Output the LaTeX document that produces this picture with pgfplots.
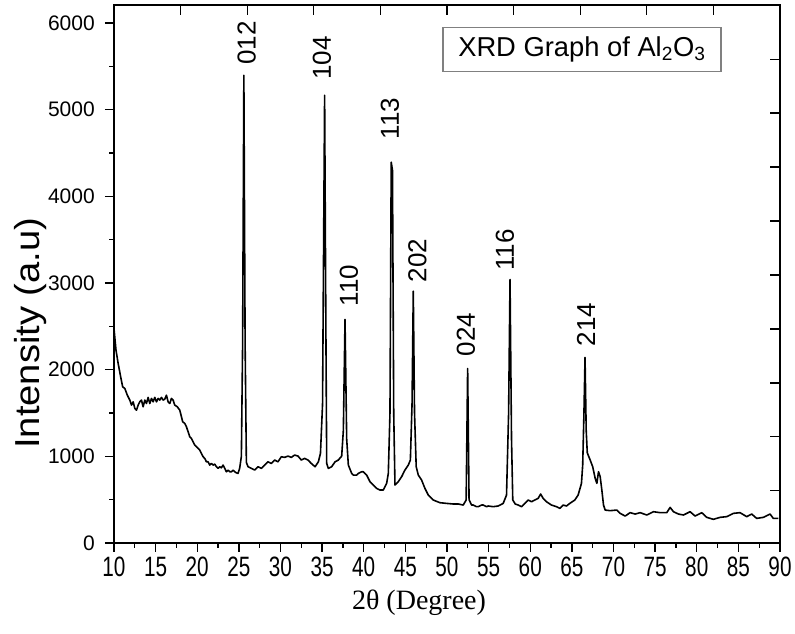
\documentclass[border=0pt]{standalone}
\usepackage{pgfplots}
\pgfplotsset{compat=1.18}
\usepackage{pgfplotstable}
\usepackage{fontspec}
\setmainfont{Liberation Sans}
\newfontfamily\serifx{Liberation Serif}
\newfontfamily\narrowf[FakeStretch=0.74]{Liberation Sans}
\newfontfamily\widef[FakeStretch=1.1]{Liberation Sans}

\pgfplotstableread{
x y
10.0 2475
10.24 2225
10.5 2072
10.8 1918
11.04 1802
11.3 1783
11.6 1706
11.9 1649
12.1 1591
12.3 1629
12.5 1553
12.7 1533
12.9 1591
13.1 1629
13.3 1649
13.5 1572
13.7 1649
13.9 1610
14.1 1680
14.3 1610
14.5 1668
14.7 1629
14.9 1680
15.1 1629
15.3 1668
15.5 1649
15.7 1680
15.9 1649
16.1 1660
16.3 1706
16.5 1629
16.7 1610
16.9 1668
17.1 1649
17.3 1591
17.6 1572
17.9 1533
18.05 1476
18.25 1399
18.5 1380
18.7 1341
18.9 1284
19.1 1226
19.3 1207
19.5 1168
19.7 1130
19.9 1111
20.1 1092
20.3 1072
20.5 1034
20.7 996
20.9 976
21.1 937
21.3 937
21.5 899
21.7 918
21.9 899
22.1 910
22.3 880
22.5 861
22.7 880
22.9 868
23.1 899
23.3 861
23.5 822
23.7 841
23.9 822
24.1 822
24.3 841
24.5 822
24.7 810
24.9 803
25.1 864
25.3 1000
25.45 2300
25.6 5398
25.75 2300
25.9 930
26.1 880
26.5 861
26.9 842
27.3 880
27.7 861
28.1 899
28.5 937
28.9 918
29.3 957
29.7 937
30.1 995
30.5 988
30.9 1003
31.3 988
31.7 1015
32.1 1003
32.5 957
32.9 976
33.3 957
33.7 918
34.15 880
34.55 937
34.8 1034
35.05 1600
35.3 5167
35.45 2500
35.55 918
35.75 861
36.15 880
36.55 937
36.95 957
37.35 1003
37.55 1300
37.75 2579
37.95 1200
38.15 899
38.55 803
38.75 784
39.15 784
39.35 803
39.75 822
39.95 822
40.35 784
40.75 707
41.15 669
41.55 630
41.95 611
42.35 611
42.75 688
42.95 803
43.15 1500
43.3 4394
43.45 4300
43.6 1500
43.75 669
44.15 707
44.55 765
44.95 842
45.35 899
45.6 957
45.8 1600
45.95 2906
46.1 1500
46.3 880
46.55 784
46.95 726
47.35 630
47.75 553
48.35 496
49.15 465
49.95 457
50.75 450
51.35 450
51.95 438
52.3 496
52.48 2014
52.65 500
52.95 438
53.15 438
53.55 419
53.75 419
54.15 438
54.35 438
54.75 419
54.95 427
55.55 419
56.15 427
56.75 457
57.15 553
57.4 1500
57.57 3040
57.75 1200
57.9 496
58.2 450
58.55 438
58.95 419
59.35 457
59.75 496
60.15 476
60.55 496
60.95 515
61.25 565
61.55 515
61.95 476
62.55 438
63.15 419
63.55 400
63.95 438
64.35 427
64.75 457
65.35 496
65.75 553
66.15 688
66.3 900
66.45 1500
66.58 2142
66.72 1300
66.85 1040
67.2 957
67.5 880
67.8 746
68.0 688
68.2 822
68.4 765
68.6 611
68.8 438
69.0 380
69.6 373
70.4 380
70.8 342
71.4 311
72.0 350
72.6 334
73.2 350
74.0 323
74.8 361
75.6 350
76.4 350
76.8 411
77.2 361
77.8 334
78.4 323
79.2 361
79.8 311
80.6 350
81.2 296
82.0 273
82.8 296
83.6 304
84.4 342
85.2 350
86.0 304
86.6 334
87.2 284
88.0 296
88.8 334
89.2 284
89.8 284
}\xrd

\pgfplotstableread{
x y label
25.94 5511 012
34.98 5338 104
38.23 2721 110
43.15 4647 113
46.46 2998 202
52.28 2145 024
56.97 3128 116
66.70 2260 214
}\peaks

\begin{document}
\begin{tikzpicture}
\begin{axis}[
  at={(0,0)}, anchor=south west,
  scale only axis, width=499.5pt, height=403.5pt,
  xmin=10, xmax=90, ymin=0, ymax=6208,
  xtick={10,15,...,90}, minor x tick num=1,
  ytick={0,1000,...,6000}, minor y tick num=1,
  xtick pos=bottom, ytick pos=left,
  tick align=outside,
  major tick length=6.75pt, minor tick length=3.4pt,
  tick style={line width=1pt, black},
  line width=1.4pt,
  axis line style={line width=1.4pt, black},
  /pgf/number format/assume math mode=true,
  /pgf/number format/set thousands separator={},
  xticklabel style={font=\narrowf\fontsize{21}{24}\selectfont, anchor=north, inner sep=0pt, yshift=-3pt},
  yticklabel style={font=\fontsize{15.75}{18}\selectfont, anchor=east, inner sep=0pt, xshift=-7pt},
  xlabel={2θ (Degree)},
  xlabel style={font=\serifx\fontsize{21}{24}\selectfont, at={(axis description cs:0.458,-0.1115)}, anchor=center},
  ylabel={Intensity (a.u)},
  ylabel style={font=\widef\fontsize{26}{28}\selectfont, at={(axis description cs:-0.1246,0.39)}, anchor=center, rotate=0},
  clip=false,
]
\addplot[black, line width=1.2pt, line join=round] table[x=x,y=y] {\xrd};
\addplot[only marks, mark=none, nodes near coords, point meta=explicit symbolic,
  nodes near coords style={font=\fontsize{19.5}{22}\selectfont, rotate=90, anchor=west, inner sep=0pt}]
  table[x=x,y=y,meta=label] {\peaks};
\node[draw=gray, line width=0.8pt, minimum width=208.5pt, minimum height=33pt, inner sep=0pt,
  font=\fontsize{20.5}{24}\selectfont] at (axis description cs:0.7027,0.918) {XRD Graph of Al\textsubscript{2}O\textsubscript{3}};
\end{axis}
\begin{axis}[
  at={(0,0)}, anchor=south west,
  scale only axis, width=499.5pt, height=403.5pt,
  xmin=10, xmax=90, ymin=0, ymax=6208,
  xtick={18,26,...,82}, ytick={604,1226,1848,2470,3093,3715,4337,4960,5582},
  xtick pos=top, ytick pos=right,
  tick align=inside, major tick length=7.5pt,
  tick style={line width=1pt, black},
  xticklabels={}, yticklabels={},
  axis line style={draw=none},
]
\end{axis}
\pgfresetboundingbox
\path[use as bounding box] (-85.5pt,-68.25pt) rectangle (510.75pt,407.25pt);
\end{tikzpicture}
\end{document}
